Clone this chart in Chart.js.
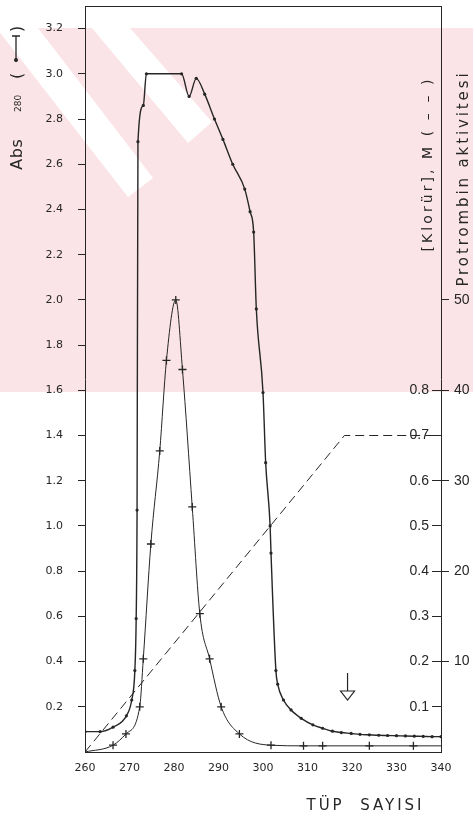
<!DOCTYPE html>
<html>
<head>
<meta charset="utf-8">
<title>Tüp sayısı</title>
<script src="https://cdn.jsdelivr.net/npm/chart.js@4.4.1/dist/chart.umd.min.js"></script>
<style>
  html, body { margin: 0; padding: 0; background: #fff; }
  #chart { display: block; }
</style>
</head>
<body>
<canvas id="chart" width="473" height="819"></canvas>
<script>
const ink = '#262626';

// axis ticks
const xTicks = [260, 270, 280, 290, 300, 310, 320, 330, 340];
const absTicks = [0.2, 0.4, 0.6, 0.8, 1.0, 1.2, 1.4, 1.6, 1.8, 2.0, 2.2, 2.4, 2.6, 2.8, 3.0, 3.2];
const klorurTicks = [0.1, 0.2, 0.3, 0.4, 0.5, 0.6, 0.7, 0.8];
const activityTicks = [10, 20, 30, 40, 50];

// Abs 280 (solid line with dots)
const absTube = [260, 263.4, 266.3, 269.3, 270.5, 271.2, 271.5, 271.7, 271.9, 273.1, 273.8, 281.7, 283.4, 285.0,
  286.9, 289.1, 291.0, 293.2, 295.9, 297.1, 297.9, 298.5, 300.0, 300.6, 301.6, 301.8, 302.9, 303.3, 304.6,
  306.3, 308.6, 311.2, 313.4, 315.6, 317.6, 319.8, 321.8, 323.9, 326, 328, 330, 332, 334, 336, 338, 340];
const absValue = [0.09, 0.09, 0.11, 0.16, 0.23, 0.36, 0.59, 1.07, 2.70, 2.86, 3.0, 3.0, 2.90, 2.98,
  2.91, 2.80, 2.71, 2.60, 2.49, 2.39, 2.30, 1.96, 1.59, 1.28, 1.00, 0.88, 0.36, 0.30, 0.23,
  0.186, 0.149, 0.12, 0.105, 0.092, 0.086, 0.082, 0.078, 0.076, 0.074, 0.073, 0.072, 0.071, 0.070, 0.069, 0.068, 0.068];

// Protrombin aktivitesi (solid line with crosses)
const activityTube = [260, 266.3, 269.2, 272.3, 273.1, 274.8, 276.8, 278.3, 280.4, 281.9, 284.1, 285.8,
  288.0, 290.6, 294.7, 301.8, 309.1, 313.4, 323.9, 333.8, 340];
const activityValue = [0, 0.75, 2.0, 5.0, 10.3, 23.0, 33.3, 43.3, 50.0, 42.3, 27.1, 15.3,
  10.3, 5.0, 2.0, 0.75, 0.68, 0.68, 0.68, 0.68, 0.68];

// [Klorür], M (dashed gradient)
const klorurTube = [260, 318.3, 340];
const klorurValue = [0, 0.70, 0.70];

// arrow under the tail of the Abs curve
const arrowTube = 319;
const arrowTop = 0.35;
const arrowTip = 0.23;

const pts = (xs, ys) => xs.map((x, i) => ({ x, y: ys[i] }));

// light pink scan watermark behind the plot, with its pale diagonal bands
const paper = {
  id: 'paper',
  beforeDraw(chart) {
    const { ctx } = chart;
    ctx.save();
    ctx.fillStyle = '#fbe4e8';
    ctx.fillRect(0, 28, chart.width, 364);
    ctx.fillStyle = '#ffffff';
    const bands = [
      [[-2, 28], [38, 28], [153, 178], [128, 197], [-2, 30]],
      [[92, 28], [130, 28], [212, 122], [188, 143], [92, 28]]
    ];
    bands.forEach(b => {
      ctx.beginPath();
      b.forEach(([x, y], i) => (i ? ctx.lineTo(x, y) : ctx.moveTo(x, y)));
      ctx.closePath();
      ctx.fill();
    });
    ctx.restore();
  }
};

function spacedText(ctx, text, x, y, target) {
  ctx.letterSpacing = '0px';
  const w = ctx.measureText(text).width;
  const sp = Math.max(0, (target - w) / text.length);
  ctx.letterSpacing = sp + 'px';
  ctx.fillText(text, x + sp / 2, y);
  ctx.letterSpacing = '0px';
}

const notes = {
  id: 'notes',
  afterDatasetsDraw(chart) {
    const { ctx, scales } = chart;
    const x = scales.x.getPixelForValue(arrowTube);
    const y1 = scales.y.getPixelForValue(arrowTop);
    const y2 = scales.y.getPixelForValue(arrowTip);
    ctx.save();
    ctx.strokeStyle = ink;
    ctx.lineWidth = 1.2;
    ctx.beginPath();
    ctx.moveTo(x, y1);
    ctx.lineTo(x, y2 - 9);
    ctx.moveTo(x - 7, y2 - 9);
    ctx.lineTo(x + 7, y2 - 9);
    ctx.lineTo(x, y2);
    ctx.closePath();
    ctx.stroke();
    ctx.restore();
  },
  afterDraw(chart) {
    const { ctx } = chart;
    ctx.save();
    ctx.fillStyle = ink;
    ctx.strokeStyle = ink;

    // left title: Abs 280 ( |-• )
    ctx.save();
    ctx.translate(22, 170);
    ctx.rotate(-Math.PI / 2);
    ctx.textBaseline = 'alphabetic';
    ctx.textAlign = 'left';
    ctx.font = '16px "DejaVu Sans"';
    spacedText(ctx, 'Abs', 0, 0, 31);
    ctx.font = '9px "DejaVu Sans"';
    spacedText(ctx, '280', 58, -1, 16);
    ctx.font = '16px "DejaVu Sans"';
    ctx.fillText('(', 91, 0);
    ctx.fillText(')', 138, 0);
    ctx.lineWidth = 1.3;
    ctx.beginPath();
    ctx.moveTo(108, -6);
    ctx.lineTo(134, -6);
    ctx.moveTo(134, -10);
    ctx.lineTo(134, -2);
    ctx.stroke();
    ctx.beginPath();
    ctx.arc(110, -6, 2, 0, Math.PI * 2);
    ctx.fill();
    ctx.restore();

    // right titles
    ctx.textAlign = 'left';
    ctx.textBaseline = 'middle';
    ctx.save();
    ctx.translate(428, 253);
    ctx.rotate(-Math.PI / 2);
    ctx.font = '14px "DejaVu Sans"';
    spacedText(ctx, '[Klorür], M ( – – )', 0, 0, 175);
    ctx.restore();

    ctx.save();
    ctx.translate(464, 288);
    ctx.rotate(-Math.PI / 2);
    ctx.font = '15px "DejaVu Sans"';
    spacedText(ctx, 'Protrombin aktivitesi', 0, 0, 216);
    ctx.restore();

    // x title
    ctx.font = '15px "DejaVu Sans"';
    spacedText(ctx, 'TÜP  SAYISI', 305, 806, 118);
    ctx.restore();
  }
};

const tickFont = { family: 'DejaVu Sans', size: 11 };
const sideFont = { family: 'Liberation Sans', size: 14 };

// fixed box sizes so the plot frame sits where the drawing has it
const fixBox = (w, h) => s => {
  if (w !== null) s.width = w;
  if (h !== null) s.height = h;
  s.paddingTop = 0;
  s.paddingBottom = 0;
  s.paddingLeft = 0;
  s.paddingRight = 0;
};

new Chart(document.getElementById('chart'), {
  type: 'line',
  data: {
    datasets: [
      {
        label: 'Abs 280',
        data: pts(absTube, absValue),
        yAxisID: 'y',
        borderColor: ink,
        borderWidth: 1.4,
        pointStyle: 'circle',
        pointRadius: 1.6,
        pointBackgroundColor: ink,
        pointBorderWidth: 0,
        cubicInterpolationMode: 'monotone'
      },
      {
        label: 'Protrombin aktivitesi',
        data: pts(activityTube, activityValue),
        yAxisID: 'yP',
        borderColor: ink,
        borderWidth: 1,
        pointStyle: 'cross',
        pointRadius: c => (c.dataIndex === 0 || c.dataIndex === activityTube.length - 1 ? 0 : 4),
        pointBorderColor: ink,
        pointBorderWidth: 1.3,
        cubicInterpolationMode: 'monotone'
      },
      {
        label: '[Klorür], M',
        data: pts(klorurTube, klorurValue),
        yAxisID: 'yK',
        borderColor: ink,
        borderWidth: 1,
        borderDash: [9, 5],
        pointRadius: 0,
        tension: 0
      }
    ]
  },
  options: {
    responsive: false,
    animation: false,
    devicePixelRatio: 1,
    layout: { padding: 0 },
    plugins: { legend: { display: false }, tooltip: { enabled: false } },
    scales: {
      x: {
        type: 'linear', position: 'bottom', min: 260, max: 340,
        afterBuildTicks: s => { s.ticks = xTicks.map(v => ({ value: v })); },
        afterFit: fixBox(null, 67),
        grid: { display: false, drawTicks: false },
        border: { color: ink, width: 1 },
        ticks: { padding: 10, color: ink, font: tickFont, maxRotation: 0, autoSkip: false, callback: v => String(v) }
      },
      xTop: {
        type: 'linear', position: 'top', min: 260, max: 340,
        afterFit: fixBox(null, 6),
        grid: { display: false, drawTicks: false },
        ticks: { display: false },
        border: { color: ink, width: 1 }
      },
      y: {
        position: 'left', min: 0, max: 3.3,
        afterBuildTicks: s => { s.ticks = absTicks.map(v => ({ value: v })); },
        afterFit: fixBox(85, null),
        grid: { drawOnChartArea: false, tickLength: 7, color: ink },
        border: { color: ink, width: 1 },
        ticks: { padding: 15, color: ink, font: tickFont, callback: v => v.toFixed(1) }
      },
      yK: {
        position: 'right', weight: 0, min: 0, max: 1.65,
        afterBuildTicks: s => { s.ticks = klorurTicks.map(v => ({ value: v })); },
        afterFit: fixBox(0, null),
        grid: { drawOnChartArea: false, tickLength: -9, color: ink },
        border: { display: false },
        ticks: { mirror: true, padding: -12, color: ink, font: sideFont, callback: v => v.toFixed(1) }
      },
      yP: {
        position: 'right', weight: 1, min: 0, max: 82.5,
        afterBuildTicks: s => { s.ticks = activityTicks.map(v => ({ value: v })); },
        afterFit: fixBox(32, null),
        grid: { drawOnChartArea: false, tickLength: 8, color: ink },
        border: { color: ink, width: 1 },
        ticks: { padding: 5, color: ink, font: sideFont, callback: v => String(v) }
      }
    }
  },
  plugins: [paper, notes]
});
</script>
</body>
</html>
